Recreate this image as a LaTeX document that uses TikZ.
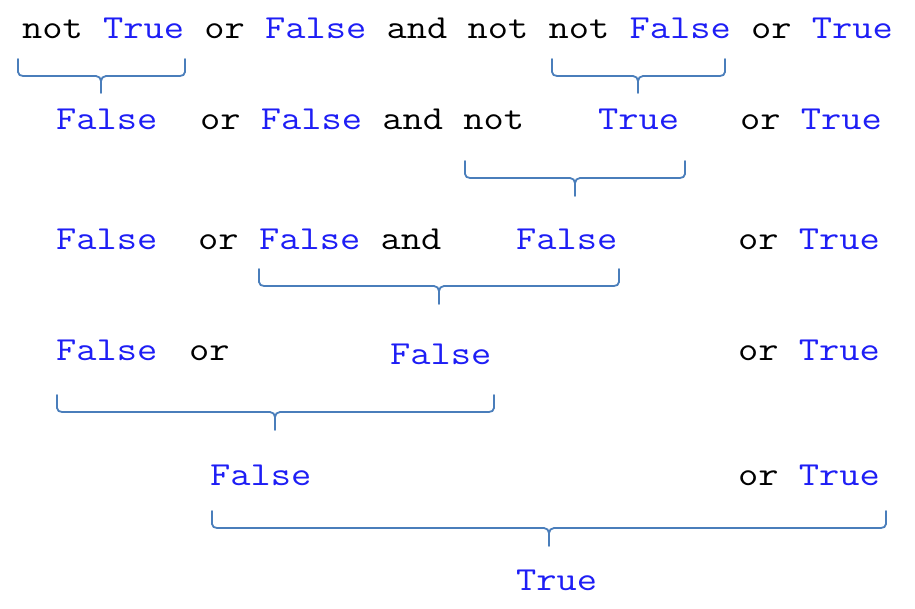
\documentclass[tikz,border=0pt]{standalone}
\usepackage{fontspec}
\setmonofont{Latin Modern Mono}[FakeStretch=1.17]
\definecolor{valblue}{RGB}{30,30,245}
\definecolor{bracecol}{RGB}{74,126,187}
\newcommand{\V}[1]{\textcolor{valblue}{#1}}
\newcommand{\Brc}[6]{% x1, x2, xm, top, bottom, tip
  \draw[brace] (#1,-#4) -- (#1,-#5+4) to[out=-90,in=180] (#1+5,-#5) -- (#3-5,-#5)
    to[out=0,in=90] (#3,-#5-5) -- (#3,-#6);
  \draw[brace] (#3,-#5-5) to[out=90,in=180] (#3+5,-#5) -- (#2-5,-#5)
    to[out=0,in=-90] (#2,-#5+4) -- (#2,-#4);}
\begin{document}
\begin{tikzpicture}[x=1pt,y=1pt,
  txt/.style={anchor=base west,inner sep=0pt,font=\ttfamily\fontsize{33.6}{36}\selectfont},
  brace/.style={draw=bracecol,line width=1.8pt,line cap=round}]
\useasboundingbox (0,0) rectangle (915,-608);
% line 1
\node[txt] (l1) at (22,-38) {not \V{True} or \V{False} and not not \V{False} or \V{True}};
\Brc{18}{185}{101}{59}{76}{93}
\Brc{552}{725}{638}{59}{76}{93}
% line 2
\node[txt] (l2a) at (56,-129) {\V{False}};
\node[txt] (l2b) at (200,-129) {or \V{False} and not};
\node[txt] (l2c) at (598,-129) {\V{True}};
\node[txt] (l2d) at (740,-129) {or \V{True}};
\Brc{465}{685}{575}{161}{178}{196}
% line 3
\node[txt] (l3a) at (56,-249) {\V{False}};
\node[txt] (l3b) at (198,-249) {or};
\node[txt] (l3c) at (259,-249) {\V{False} and};
\node[txt] (l3d) at (516,-249) {\V{False}};
\node[txt] (l3e) at (738,-249) {or \V{True}};
\Brc{259}{619}{439}{269}{286}{304}
% line 4
\node[txt] (l4a) at (56,-360) {\V{False}};
\node[txt] (l4b) at (189,-360) {or};
\node[txt] (l4c) at (390,-364) {\V{False}};
\node[txt] (l4d) at (738,-360) {or \V{True}};
\Brc{57}{494}{275}{395}{412}{430}
% line 5
\node[txt] (l5a) at (210,-485) {\V{False}};
\node[txt] (l5b) at (738,-485) {or \V{True}};
\Brc{212}{886}{549}{511}{528}{546}
% line 6
\node[txt] (l6) at (516,-590) {\V{True}};
\end{tikzpicture}
\end{document}
